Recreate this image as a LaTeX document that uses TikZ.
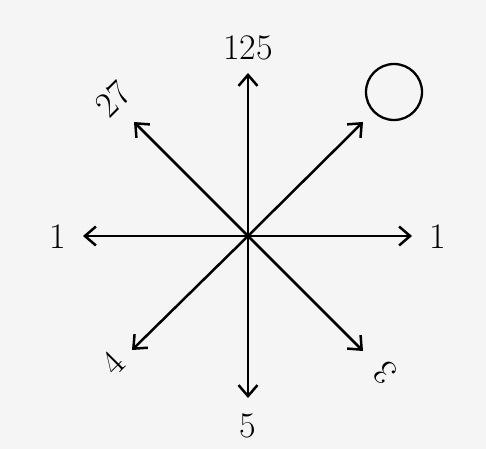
\documentclass[tikz,border=0pt]{standalone}
\usetikzlibrary{arrows.meta}
\begin{document}
\begin{tikzpicture}[x=1pt,y=-1pt,
  ray/.style={line width=2.5pt,-{Straight Barb[length=11pt,width=19pt,line width=2.5pt]}},
  lbl/.style={font=\fontsize{36}{42}\selectfont,inner sep=0pt}]
\fill[black!4] (0,0) rectangle (486,449);
\useasboundingbox (0,0) rectangle (486,449);
\coordinate (c) at (248,236);
\coordinate (tu) at (248,73);
\coordinate (td) at (248,398);
\coordinate (tl) at (83,236);
\coordinate (tr) at (412,236);
\coordinate (tul) at (134,122);
\coordinate (tur) at (363,122);
\coordinate (tll) at (132,350);
\coordinate (tlr) at (363,351);
\node[lbl] (lu) at (248,48) {125};
\node[lbl] (ld) at (248,426) {5};
\node[lbl] (ll) at (58,237) {1};
\node[lbl] (lr) at (438,237) {1};
\node[lbl,rotate=45] (lul) at (113,99) {27};
\node[lbl,rotate=45] (lll) at (113,363) {4};
\node[lbl,rotate=135] (llr) at (385,373) {3};
\node[draw,circle,line width=2.3pt,minimum size=56pt,inner sep=0pt] (o) at (394,92) {};
\foreach \t in {tu,td,tl,tr,tul,tur,tll,tlr} \draw[ray] (c) -- (\t);
\end{tikzpicture}
\end{document}
